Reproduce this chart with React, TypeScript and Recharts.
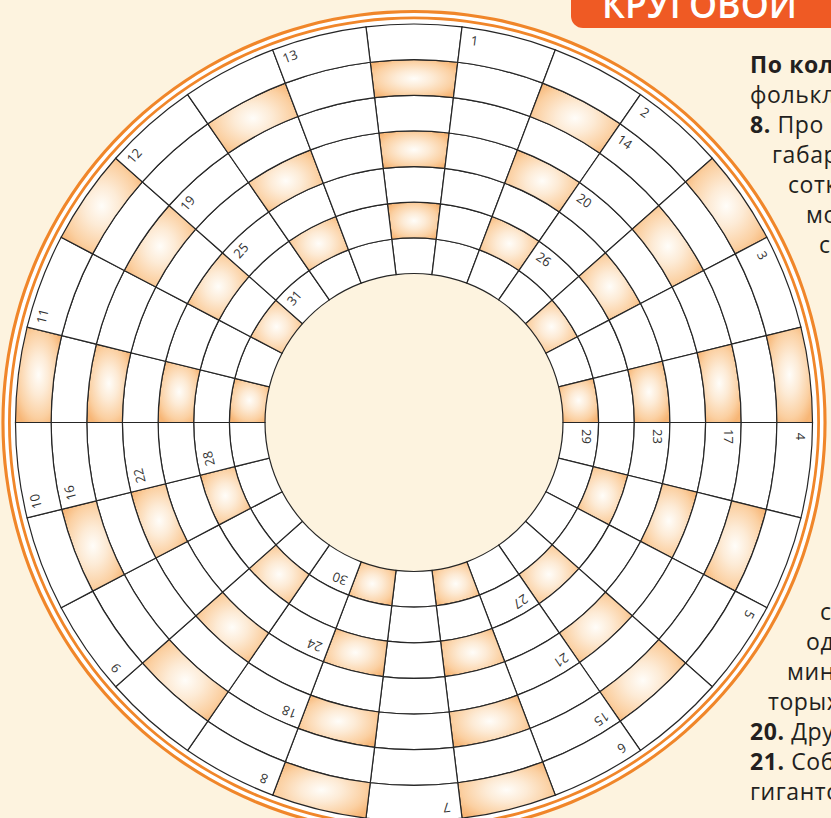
import { Cell, Pie, PieChart } from "recharts";

const CHART_W = 831;
const CHART_H = 818;
const CX = 414;
const CY = 422.5;

// radii of the ring edges, from the empty centre out to the rim
const ringEdges = [149, 184.6, 220.3, 255.9, 291.6, 327.2, 362.9, 398.5];
const ringNumbers = [1, 2, 3, 4, 5, 6, 7];

// every ring is split in 26 equal cells, cell 0 sits at 12 o'clock
const cellWeights = [1, 1, 1, 1, 1, 1, 1, 1, 1, 1, 1, 1, 1, 1, 1, 1, 1, 1, 1, 1, 1, 1, 1, 1, 1, 1];

// which rings are shaded in each cell column, clockwise from the top
const shadedRings: number[][] = [
  [2, 4, 6], [], [2, 4, 6], [], [1, 3, 5, 7], [], [1, 3, 5, 7], [],
  [2, 4, 6], [], [2, 4, 6], [], [1, 3, 5, 7], [], [1, 3, 5, 7], [],
  [2, 4, 6], [], [2, 4, 6], [], [1, 3, 5, 7], [], [1, 3, 5, 7], [],
  [2, 4, 6], [],
];

// clue numbers, the cell column and ring they start in
const clueNumbers = [1, 2, 3, 4, 5, 6, 7, 8, 9, 10, 11, 12, 13, 14, 15, 16, 17, 18, 19, 20, 21, 22, 23, 24, 25, 26, 27, 28, 29, 30, 31];
const clueSectors = [1, 3, 5, 7, 9, 11, 13, 15, 17, 19, 21, 23, 25, 3, 11, 19, 7, 15, 23, 3, 11, 19, 7, 15, 23, 3, 11, 19, 7, 15, 23];
const clueRings = [7, 7, 7, 7, 7, 7, 7, 7, 7, 7, 7, 7, 7, 6, 6, 6, 5, 5, 5, 4, 4, 4, 3, 3, 3, 2, 2, 2, 1, 1, 1];

// the text that runs around the puzzle on the right
const topLines = ["По кол", "фолькл", "8. Про", "габар", "сотк", "мо", "с"];
const topLineX = [750, 750, 750, 772, 788, 806, 819];
const bottomLines = ["с", "од", "мин", "торых", "20. Дру", "21. Соб", "гиганто"];
const bottomLineX = [820, 806, 787, 768, 750, 750, 750];

const STEP = 360 / cellWeights.length;
const START = 90 + STEP / 2;
const BG = "#fdf3df";
const RIM = "#f0862a";
const INK = "#262626";

function makeClueLabel(ring: number) {
  const outer = ringEdges[ring];
  return (props: { index?: number }) => {
    const sector = props.index ?? -1;
    const k = clueNumbers.findIndex((_, i) => clueSectors[i] === sector && clueRings[i] === ring);
    if (k < 0) return null;
    const angle = (sector - 0.5) * STEP;
    return (
      <text
        x={CX + 14}
        y={CY - (outer - 12)}
        transform={`rotate(${angle} ${CX} ${CY})`}
        textAnchor="middle"
        dominantBaseline="central"
        fontSize={13}
        fontFamily="'Open Sans', sans-serif"
        fill="#333"
      >
        {clueNumbers[k]}
      </text>
    );
  };
}

function SideText() {
  const renderLine = (line: string, x: number, y: number, boldAll: boolean) => {
    const m = line.match(/^(\d+\.)(.*)$/);
    return (
      <text
        key={`${line}-${y}`}
        x={x}
        y={y}
        fontSize={23}
        letterSpacing={0.6}
        fontFamily="'Open Sans', sans-serif"
        fill="#231f20"
      >
        {boldAll ? (
          <tspan fontWeight={700}>{line}</tspan>
        ) : m ? (
          <>
            <tspan fontWeight={700}>{m[1]}</tspan>
            <tspan>{m[2]}</tspan>
          </>
        ) : (
          line
        )}
      </text>
    );
  };
  return (
    <svg width={CHART_W} height={CHART_H} style={{ position: "absolute", left: 0, top: 0 }}>
      <rect x={571} y={-22} width={300} height={50} rx={12} fill="#ef5a24" />
      <text
        x={602}
        y={18}
        fontSize={37}
        fontWeight={600}
        fontFamily="'Open Sans', sans-serif"
        fill="#fff"
        textLength={195}
        lengthAdjust="spacingAndGlyphs"
      >
        КРУГОВОЙ
      </text>
      {topLines.map((line, i) => renderLine(line, topLineX[i], 73 + i * 30, i === 0))}
      {bottomLines.map((line, i) => renderLine(line, bottomLineX[i], 620 + i * 30, false))}
    </svg>
  );
}

export default function App() {
  return (
    <div
      style={{
        position: "absolute",
        left: 0,
        top: 0,
        width: CHART_W,
        height: CHART_H,
        overflow: "hidden",
        background: BG,
      }}
    >
      <SideText />
      <div style={{ position: "absolute", left: 0, top: 0 }}>
        <PieChart width={CHART_W} height={CHART_H} margin={{ top: 0, right: 0, bottom: 0, left: 0 }}>
          <defs>
            <radialGradient id="cellGlow" cx="50%" cy="50%" r="60%">
              <stop offset="0%" stopColor="#fffdf9" />
              <stop offset="35%" stopColor="#fdebd6" />
              <stop offset="75%" stopColor="#fbd0a2" />
              <stop offset="100%" stopColor="#f7b676" />
            </radialGradient>
          </defs>

          {/* white band and the two orange rim lines */}
          <Pie
            data={[{ value: 1 }]}
            dataKey="value"
            cx={CX}
            cy={CY}
            innerRadius={397}
            outerRadius={409.5}
            startAngle={90}
            endAngle={-270}
            fill="#fff"
            stroke="none"
            isAnimationActive={false}
          />
          <Pie
            data={[{ value: 1 }]}
            dataKey="value"
            cx={CX}
            cy={CY}
            innerRadius={403.2}
            outerRadius={406}
            startAngle={90}
            endAngle={-270}
            fill={RIM}
            stroke="none"
            isAnimationActive={false}
          />
          <Pie
            data={[{ value: 1 }]}
            dataKey="value"
            cx={CX}
            cy={CY}
            innerRadius={409.5}
            outerRadius={412.6}
            startAngle={90}
            endAngle={-270}
            fill={RIM}
            stroke="none"
            isAnimationActive={false}
          />

          {ringNumbers.map((ring) => (
            <Pie
              key={`ring-${ring}`}
              data={cellWeights.map((w, s) => ({ value: w, sector: s }))}
              dataKey="value"
              cx={CX}
              cy={CY}
              innerRadius={ringEdges[ring - 1]}
              outerRadius={ringEdges[ring]}
              startAngle={START}
              endAngle={START - 360}
              paddingAngle={0}
              stroke={INK}
              strokeWidth={1.2}
              label={makeClueLabel(ring)}
              labelLine={false}
              isAnimationActive={false}
            >
              {cellWeights.map((_, s) => (
                <Cell
                  key={`c-${ring}-${s}`}
                  fill={shadedRings[s].includes(ring) ? "url(#cellGlow)" : "#fff"}
                  stroke={INK}
                  strokeWidth={1.2}
                />
              ))}
            </Pie>
          ))}
        </PieChart>
      </div>
    </div>
  );
}
